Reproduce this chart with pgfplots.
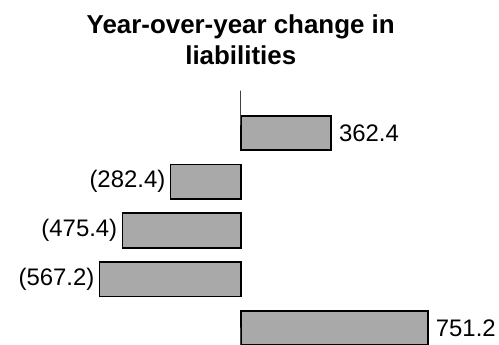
\documentclass[border=0pt]{standalone}
\usepackage{pgfplots}
\pgfplotsset{compat=1.18}
\usepackage{fontspec}
\setmainfont{Liberation Sans}
\definecolor{barfill}{HTML}{A9A9A9}
\begin{document}
\begin{tikzpicture}
\begin{axis}[
  name=main,
  scale only axis,
  width=499bp, height=345bp,
  xmin=-966.7, xmax=1037.3,
  ymin=-0.3487, ymax=6.728,
  axis line style={draw=none},
  ticks=none,
  xbar, bar width=0.708, bar shift=0pt,
  clip=false,
  point meta=explicit symbolic,
  nodes near coords,
  every node near coord/.append style={font=\fontsize{24}{28}\selectfont, black},
]
\addplot[xbar, fill=barfill, draw=black, line width=1.6pt,
  nodes near coords style={anchor=west, xshift=4bp}]
  table[meta=label] {
x y label
751.2 0 751.2
362.4 4 362.4
};
\addplot[xbar, fill=barfill, draw=black, line width=1.6pt,
  nodes near coords style={anchor=east, xshift=-1bp}]
  table[meta=label] {
x y label
-567.2 1 (567.2)
-475.4 2 (475.4)
-282.4 3 (282.4)
};
\addplot[draw=black!75, line width=1pt, forget plot] coordinates {(0,-0.3487) (0,4.515)};
\node[align=center, font=\bfseries\fontsize{26}{31}\selectfont, anchor=base]
  at (axis description cs:0.4824,0.9035) {Year-over-year change in};
\node[align=center, font=\bfseries\fontsize{26}{31}\selectfont, anchor=base]
  at (axis description cs:0.4824,0.8136) {liabilities};
\end{axis}
\pgfresetboundingbox
\path[use as bounding box] (main.south west) rectangle (main.north east);
\end{tikzpicture}
\end{document}
